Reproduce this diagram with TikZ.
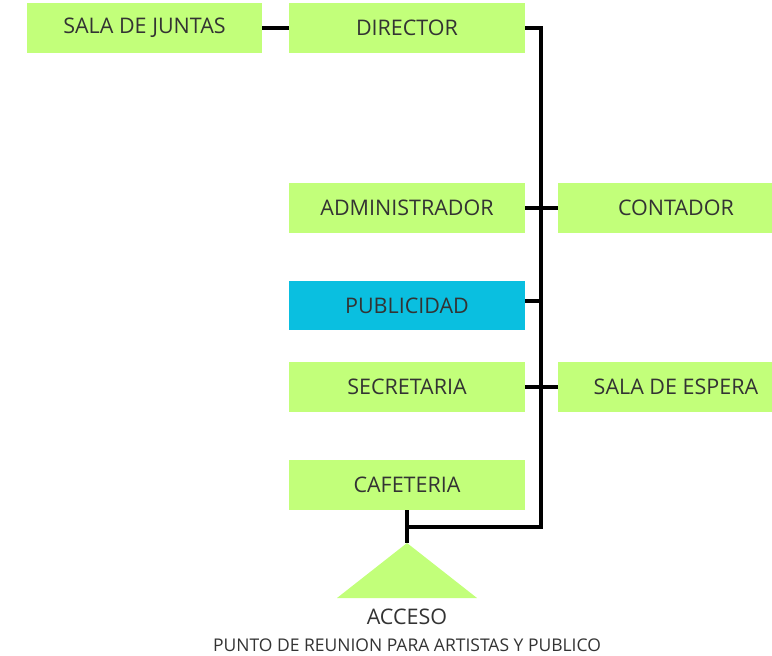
\documentclass[tikz,border=0pt]{standalone}
\usepackage{fontspec}
\setmainfont{Open Sans}
\definecolor{boxgreen}{HTML}{C2FF7A}
\definecolor{boxcyan}{HTML}{0ABFE0}
\definecolor{txt}{HTML}{333333}
\begin{document}
\begin{tikzpicture}[x=1pt,y=-1pt,
  room/.style={fill=boxgreen,draw=none,inner sep=0pt,font=\fontsize{21.5}{24}\selectfont,text=txt},
  link/.style={line width=3.2pt,black}]
\useasboundingbox (0,0) rectangle (772,656);
\node[room,minimum width=235,minimum height=50] (juntas) at (144.5,28) {SALA DE JUNTAS};
\node[room,minimum width=236,minimum height=50] (director) at (407,28) {DIRECTOR};
\node[room,minimum width=236,minimum height=50] (admin) at (407,208) {ADMINISTRADOR};
\node[room,minimum width=236,minimum height=50] (contador) at (676,208) {CONTADOR};
\node[room,fill=boxcyan,minimum width=236,minimum height=49] (publi) at (407,305.5) {PUBLICIDAD};
\node[room,minimum width=236,minimum height=50] (secre) at (407,387) {SECRETARIA};
\node[room,minimum width=236,minimum height=50] (espera) at (676,387) {SALA DE ESPERA};
\node[room,minimum width=236,minimum height=50] (cafe) at (407,485) {CAFETERIA};
\coordinate (top) at (541,28);
\coordinate (bot) at (541,527);
\coordinate (apex) at (407,543);
\coordinate (bl) at (337,598);
\coordinate (br) at (477,598);
\fill[boxgreen] (apex) -- (br) -- (bl) -- cycle;
\draw[link] (juntas.east) -- (director.west);
\draw[link] (director.east) -- (top) -- (bot) -| (cafe.south);
\draw[link] (cafe.south) -- (apex);
\draw[link] (admin.east) -- (contador.west);
\draw[link] (publi.east |- 0,301) -- (541,301);
\draw[link] (secre.east) -- (espera.west);
\node[text=txt,font=\fontsize{21.5}{24}\selectfont] (acceso) at (407,617) {ACCESO};
\node[text=txt,font=\fontsize{17.5}{20}\selectfont] (punto) at (407,645) {PUNTO DE REUNION PARA ARTISTAS Y PUBLICO};
\end{tikzpicture}
\end{document}
